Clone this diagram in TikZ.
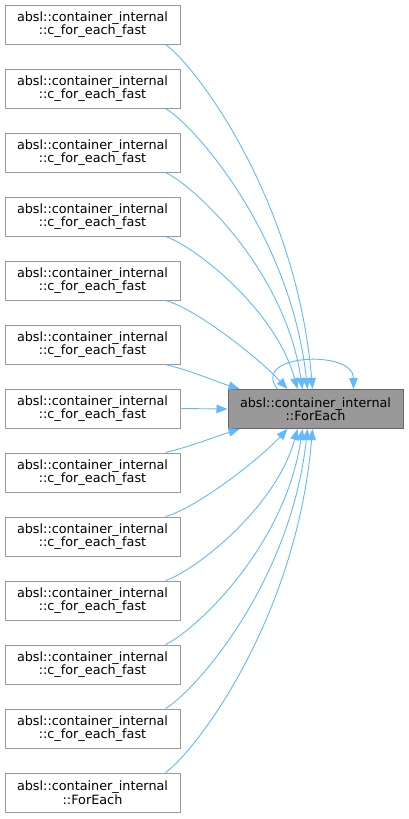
\documentclass[tikz,border=0pt]{standalone}
\usepackage{fontspec}
\setmainfont{DejaVu Sans}
\usetikzlibrary{arrows.meta,calc}
\definecolor{edgeblue}{HTML}{63B8FF}
\definecolor{boxgray}{HTML}{999999}
\definecolor{boxdark}{HTML}{666666}
\begin{document}
\begin{tikzpicture}[x=1pt,y=-1pt,
  box/.style={draw=boxgray, line width=1pt, fill=white, minimum width=175pt, minimum height=39pt, inner sep=0pt, align=center, font=\fontsize{12.8}{13.5}\selectfont},
  mainbox/.style={box, draw=boxdark, fill=boxgray},
  edge/.style={draw=edgeblue, line width=0.9pt, -{Triangle[length=11pt,width=8.5pt]}}]
\useasboundingbox (0,0) rectangle (408,819);
\foreach \i in {0,...,11}
  \node[box] (n\i) at (92.5,{24.5+64*\i}) {absl::container\_internal\\::c\_for\_each\_fast};
\node[box] (n12) at (92.5,{24.5+64*12}) {absl::container\_internal\\::ForEach};
\node[mainbox] (f) at (315.5,409) {absl::container\_internal\\::ForEach};
% top group
\draw[edge] ($(n0.south east)+(-15,0)$) .. controls +(30,21) and +(-16,-190) .. ($(f.north west)+(85,0)$);
\draw[edge] ($(n1.south east)+(-15,0)$) .. controls +(29,17) and +(-17,-155) .. ($(f.north west)+(80,0)$);
\draw[edge] ($(n2.south east)+(-15,0)$) .. controls +(28,13) and +(-18,-120) .. ($(f.north west)+(75,0)$);
\draw[edge] ($(n3.south east)+(-15,0)$) .. controls +(28,9) and +(-22,-80) .. ($(f.north west)+(70,0)$);
\draw[edge] ($(n4.south east)+(-15,0)$) .. controls +(30,8) and +(-30,-32) .. ($(f.north west)+(60,0)$);
\draw[edge] ($(n5.south east)+(-15,0)$) .. controls +(25,6) and +(-25,-8) .. ($(f.north west)+(12,0)$);
\draw[edge] (n6.east) -- (f.west);
% bottom group
\draw[edge] ($(n7.north east)+(-15,0)$) .. controls +(25,-6) and +(-25,8) .. ($(f.south west)+(12,0)$);
\draw[edge] ($(n8.north east)+(-15,0)$) .. controls +(30,-8) and +(-30,32) .. ($(f.south west)+(60,0)$);
\draw[edge] ($(n9.north east)+(-15,0)$) .. controls +(28,-9) and +(-22,80) .. ($(f.south west)+(70,0)$);
\draw[edge] ($(n10.north east)+(-15,0)$) .. controls +(28,-13) and +(-18,120) .. ($(f.south west)+(75,0)$);
\draw[edge] ($(n11.north east)+(-15,0)$) .. controls +(29,-17) and +(-17,155) .. ($(f.south west)+(80,0)$);
\draw[edge] ($(n12.north east)+(-15,0)$) .. controls +(30,-21) and +(-16,190) .. ($(f.south west)+(85,0)$);
% self loop
\draw[edge] ($(f.north west)+(50,0)$) .. controls +(-28,-35) and +(0,-40) .. ($(f.north west)+(126,0)$);
\end{tikzpicture}
\end{document}
